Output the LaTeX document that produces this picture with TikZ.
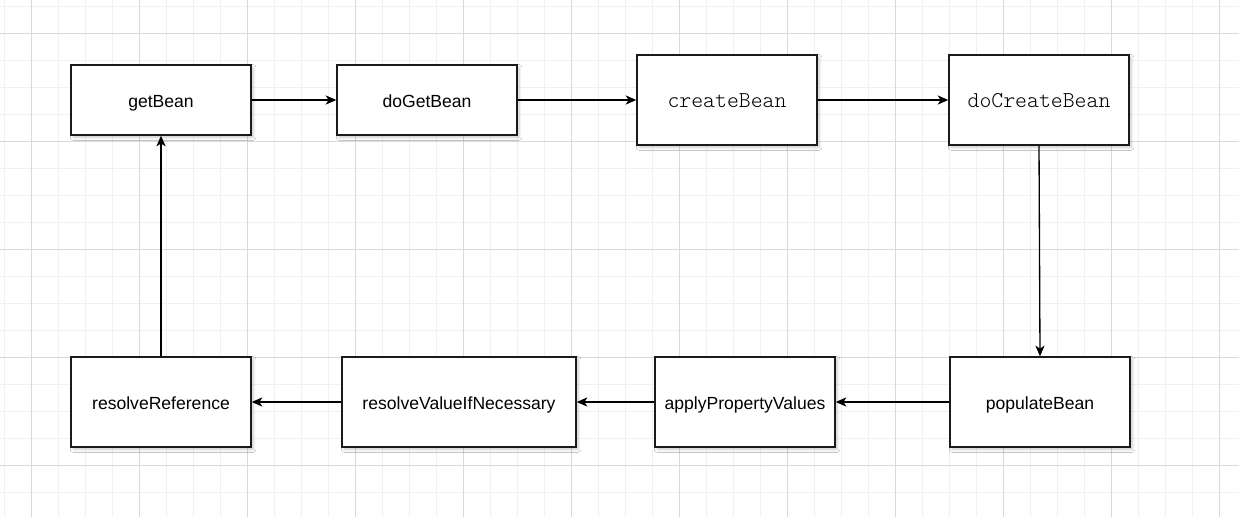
\documentclass[tikz,border=0pt]{standalone}
\usepackage{fontspec}
\setmainfont{Liberation Sans}
\newfontfamily\lightmono{Latin Modern Mono Light}
\usepackage{xcolor}
\usepackage{tikz}
\usetikzlibrary{arrows.meta,shadows.blur}
\definecolor{GridMajor}{HTML}{D9D9D9}
\definecolor{GridMinor}{HTML}{F1F1F1}
\definecolor{BoxLine}{HTML}{1A1A1A}

\begin{document}
\begin{tikzpicture}[x=0.02cm,y=-0.02cm,
  callbox/.style={draw=BoxLine,line width=0.85pt,fill=white,minimum width=3.6cm,minimum height=1.4cm,
    inner sep=0pt,text height=8pt,text depth=0pt,font=\fontsize{10}{12}\selectfont,
    blur shadow={shadow blur steps=6,shadow xshift=1.2pt,shadow yshift=-1.4pt,shadow opacity=22,shadow blur radius=1.6pt}},
  tallbox/.style={callbox,minimum height=1.8cm},
  monobox/.style={tallbox,text height=9pt,font=\fontsize{12.9}{15}\lightmono},
  flow/.style={line width=0.75pt,-{Stealth[length=6pt,width=5.2pt,inset=1.6pt]}}]
\path[use as bounding box,fill=white] (0,0) rectangle (1239,517);
\foreach \k in {0,...,45} \draw[GridMinor,line width=0.5pt] (4.5+27*\k,0) -- (4.5+27*\k,517);
\foreach \k in {0,...,18} \draw[GridMinor,line width=0.5pt] (0,6+27*\k) -- (1239,6+27*\k);
\foreach \k in {0,...,11} \draw[GridMajor,line width=0.5pt] (31.5+108*\k,0) -- (31.5+108*\k,517);
\foreach \k in {0,...,4} \draw[GridMajor,line width=0.5pt] (0,33+108*\k) -- (1239,33+108*\k);

\node[callbox] (getbean) at (161,100) {getBean};
\node[callbox] (dogetbean) at (427,100) {doGetBean};
\node[monobox] (createbean) at (727,100) {createBean};
\node[monobox] (docreatebean) at (1039,100) {doCreateBean};
\node[tallbox] (populatebean) at (1040,402) {populateBean};
\node[tallbox] (applyvalues) at (745,402) {applyPropertyValues};
\node[tallbox,minimum width=4.68cm] (resolvevalue) at (459,402) {resolveValueIfNecessary};
\node[tallbox] (resolveref) at (161,402) {resolveReference};

\draw[flow] (getbean) -- (dogetbean);
\draw[flow] (dogetbean) -- (createbean);
\draw[flow] (createbean) -- (docreatebean);
\draw[flow] (docreatebean.south) -- (populatebean.north);
\draw[flow] (populatebean) -- (applyvalues);
\draw[flow] (applyvalues) -- (resolvevalue);
\draw[flow] (resolvevalue) -- (resolveref);
\draw[flow] (resolveref) -- (getbean);
\end{tikzpicture}
\end{document}
